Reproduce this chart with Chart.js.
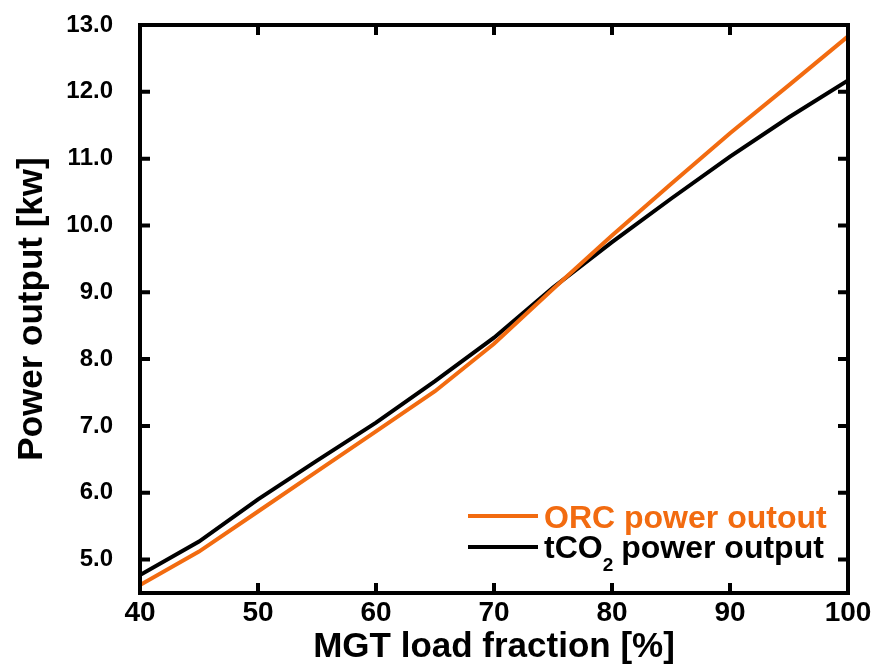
<!DOCTYPE html>
<html>
<head>
<meta charset="utf-8">
<script src="https://cdn.jsdelivr.net/npm/chart.js@4"></script>
<style>
  body { margin: 0; background: #fff; }
  #wrap { width: 875px; height: 668px; }
</style>
</head>
<body>
<div id="wrap"><canvas id="canvas1"></canvas></div>
<script>
var loadFraction = [40, 45, 50, 55, 60, 65, 70, 75, 80, 85, 90, 95, 100];
var orcPower = [4.62, 5.12, 5.72, 6.32, 6.92, 7.52, 8.23, 9.05, 9.85, 10.62, 11.38, 12.1, 12.83];
var tco2Power = [4.77, 5.27, 5.9, 6.48, 7.05, 7.67, 8.32, 9.07, 9.75, 10.4, 11.03, 11.62, 12.17];
var xTicks = [40, 50, 60, 70, 80, 90, 100];
var yTicks = [5, 6, 7, 8, 9, 10, 11, 12, 13];

var ORANGE = "#f26b10";
var font = "'Liberation Sans', Arial, sans-serif";

function points(ys){
    return loadFraction.map(function(x, i){ return {x: x, y: ys[i]}; });
}

// frame + inward ticks on all four sides, legend inside the plot
var framePlugin = {
    id: 'frame',
    afterDraw: function(chart){
        var ctx = chart.ctx, a = chart.chartArea;
        var xs = chart.scales.x, ys = chart.scales.y;
        ctx.save();
        ctx.strokeStyle = '#000';
        ctx.lineWidth = 4;
        ctx.strokeRect(a.left, a.top, a.right - a.left, a.bottom - a.top);
        ctx.beginPath();
        xTicks.forEach(function(v){
            var px = xs.getPixelForValue(v);
            ctx.moveTo(px, a.bottom); ctx.lineTo(px, a.bottom - 10);
            ctx.moveTo(px, a.top); ctx.lineTo(px, a.top + 10);
        });
        yTicks.forEach(function(v){
            var py = ys.getPixelForValue(v);
            ctx.moveTo(a.left, py); ctx.lineTo(a.left + 10, py);
            ctx.moveTo(a.right, py); ctx.lineTo(a.right - 10, py);
        });
        ctx.stroke();

        var lx = a.right - 380, ly1 = a.bottom - 77, ly2 = a.bottom - 46;
        ctx.lineWidth = 4;
        ctx.strokeStyle = ORANGE;
        ctx.beginPath(); ctx.moveTo(lx, ly1); ctx.lineTo(lx + 70, ly1); ctx.stroke();
        ctx.strokeStyle = '#000';
        ctx.beginPath(); ctx.moveTo(lx, ly2); ctx.lineTo(lx + 70, ly2); ctx.stroke();
        ctx.textBaseline = 'middle';
        ctx.textAlign = 'left';
        ctx.font = "bold 32px " + font;
        ctx.fillStyle = ORANGE;
        ctx.fillText('ORC power outout', lx + 76, ly1 + 3);
        ctx.fillStyle = '#000';
        var tx = lx + 76;
        ctx.fillText('tCO', tx, ly2 + 2);
        tx += ctx.measureText('tCO').width;
        ctx.font = "bold 19px " + font;
        ctx.fillText('2', tx, ly2 + 19);
        tx += ctx.measureText('2').width + 8;
        ctx.font = "bold 32px " + font;
        ctx.fillText('power output', tx, ly2 + 2);
        ctx.restore();
    }
};

var ctx = document.getElementById('canvas1').getContext('2d');
var myChart = new Chart(ctx, {
    type: 'line',
    data: {
        datasets: [{
            label: 'ORC power outout',
            data: points(orcPower),
            borderColor: ORANGE,
            borderWidth: 4,
            pointRadius: 0,
            tension: 0
        }, {
            label: 'tCO2 power output',
            data: points(tco2Power),
            borderColor: '#000',
            borderWidth: 4,
            pointRadius: 0,
            tension: 0
        }]
    },
    options: {
        responsive: true,
        maintainAspectRatio: false,
        animation: false,
        layout: { padding: { left: 0, right: 27, top: 25, bottom: 0 } },
        plugins: {
            legend: { display: false },
            tooltip: { enabled: false }
        },
        scales: {
            x: {
                type: 'linear',
                min: 40,
                max: 100,
                afterBuildTicks: function(scale){
                    scale.ticks = xTicks.map(function(v){ return {value: v}; });
                },
                afterFit: function(scale){
                    scale.height = 75;
                    scale.paddingLeft = 0; scale.paddingRight = 0;
                },
                grid: { display: false },
                border: { display: false },
                ticks: {
                    color: '#000',
                    padding: -5,
                    maxRotation: 0,
                    font: { family: font, size: 28, weight: 'bold' }
                },
                title: {
                    display: true,
                    text: 'MGT load fraction [%]',
                    color: '#000',
                    padding: { top: 0, bottom: 0 },
                    font: { family: font, size: 35, weight: 'bold' }
                }
            },
            y: {
                min: 4.5,
                max: 13,
                afterBuildTicks: function(scale){
                    scale.ticks = yTicks.map(function(v){ return {value: v}; });
                },
                afterFit: function(scale){
                    scale.width = 140;
                    scale.paddingTop = 0; scale.paddingBottom = 0;
                },
                grid: { display: false },
                border: { display: false },
                ticks: {
                    color: '#000',
                    padding: 19,
                    font: { family: font, size: 24, weight: 'bold' },
                    callback: function(v){ return Number(v).toFixed(1); }
                },
                title: {
                    display: true,
                    text: 'Power output [kw]',
                    color: '#000',
                    padding: { top: 11, bottom: 0 },
                    font: { family: font, size: 35, weight: 'bold' }
                }
            }
        }
    },
    plugins: [framePlugin]
});
</script>
</body>
</html>
